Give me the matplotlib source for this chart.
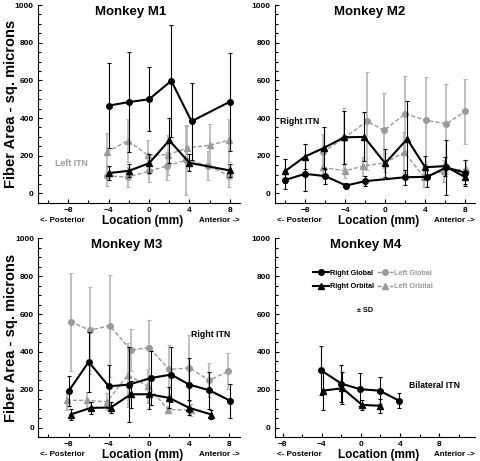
import matplotlib
matplotlib.use('Agg')
import matplotlib.pyplot as plt
from matplotlib.lines import Line2D
from matplotlib.ticker import MultipleLocator

plt.rcParams['font.family'] = ['Liberation Sans', 'DejaVu Sans']
plt.rcParams['font.weight'] = 'bold'

# ---- data (location in mm, fiber area in sq. microns, SD) ----
# Monkey M1
m1_rg_x = [-4, -2, 0, 2.2, 4.2, 8]
m1_rg = [466, 485, 500, 598, 383, 487]
m1_rg_sd = [225, 265, 170, 298, 204, 261]
m1_ro_x = [-4, -2, 0, 2, 4, 8]
m1_ro = [108, 120, 160, 282, 162, 122]
m1_ro_sd = [38, 35, 50, 118, 45, 35]
m1_lg_x = [-4.2, -2.1, 0, 1.8, 3.7, 5.8, 7.9]
m1_lg = [92, 87, 118, 146, 177, 148, 95]
m1_lg_sd = [50, 55, 60, 75, 185, 75, 60]
m1_lo_x = [-4.2, -2.1, -0.1, 1.9, 3.8, 6.0, 7.9]
m1_lo = [219, 280, 203, 206, 242, 256, 282]
m1_lo_sd = [103, 115, 80, 106, 118, 110, 115]

# Monkey M2
m2_rg_x = [-10, -8, -6, -3.9, -2, 2, 4.2, 6.1, 8]
m2_rg = [71, 104, 92, 42, 65, 86, 88, 138, 110]
m2_rg_sd = [50, 92, 40, 12, 25, 40, 55, 145, 70]
m2_ro_x = [-10, -8, -6.1, -4.1, -2.1, 0, 2.2, 4, 6, 8]
m2_ro = [118, 196, 242, 298, 300, 160, 289, 139, 145, 86]
m2_ro_sd = [65, 68, 108, 140, 130, 75, 200, 62, 50, 35]
m2_lg_x = [-6.2, -4.1, -1.8, -0.1, 2.0, 4.1, 6.1, 8.0]
m2_lg = [218, 295, 383, 335, 423, 388, 370, 435]
m2_lg_sd = [100, 160, 260, 200, 200, 230, 210, 175]
m2_lo_x = [-6.2, -4.0, -2.2, 0, 1.9, 3.9, 5.9, 8.1]
m2_lo = [138, 120, 145, 162, 218, 87, 118, 130]
m2_lo_sd = [45, 40, 50, 50, 110, 55, 60, 45]

# Monkey M3
m3_rg_x = [-8, -6, -4, -2, 0.2, 2.2, 4, 6, 8.1]
m3_rg = [192, 347, 218, 227, 262, 280, 227, 197, 141]
m3_rg_sd = [80, 160, 115, 200, 145, 146, 143, 97, 90]
m3_ro_x = [-7.8, -5.8, -3.8, -1.8, 0, 2, 4, 6.2]
m3_ro = [69, 104, 106, 176, 176, 157, 104, 69]
m3_ro_sd = [30, 30, 30, 70, 80, 55, 40, 25]
m3_lg_x = [-7.8, -5.9, -3.9, -1.8, 0, 2, 4, 6, 7.9]
m3_lg = [559, 515, 538, 409, 423, 307, 315, 250, 298]
m3_lg_sd = [260, 230, 270, 110, 145, 130, 175, 90, 95]
m3_lo_x = [-8.2, -6.2, -4.2, -2.1, -0.1, 1.9, 4.2]
m3_lo = [144, 144, 136, 277, 218, 95, 92]
m3_lo_sd = [50, 45, 45, 170, 90, 20, 30]

# Monkey M4 (bilateral ITN, right side only)
m4_rg_x = [-4.1, -2.0, -0.1, 1.9, 3.9]
m4_rg = [303, 232, 203, 195, 142]
m4_rg_sd = [130, 98, 88, 73, 40]
m4_ro_x = [-3.9, -1.9, 0.1, 2.0]
m4_ro = [195, 208, 120, 115]
m4_ro_sd = [100, 85, 28, 38]

BLACK = 'black'
GRAY = '#9a9a9a'
GRAY_ERR = '#b5b5b5'


def plot_right(ax, x, y, sd, marker):
    ax.errorbar(x, y, yerr=sd, fmt='-' + marker, color=BLACK, ecolor=BLACK,
                lw=1.5, elinewidth=0.8, capsize=1.5, capthick=0.8,
                markersize=4, zorder=4)


def plot_left(ax, x, y, sd, marker):
    ax.errorbar(x, y, yerr=sd, fmt='--' + marker, color=GRAY, ecolor=GRAY_ERR,
                lw=1.0, dashes=(3, 1.5), elinewidth=1.2, capsize=1.5,
                capthick=0.8, markersize=4, zorder=3)


def style_axes(ax, title, xlim, ylabel):
    ax.set_xlim(*xlim)
    ax.set_ylim(-50, 1000)
    ax.spines['top'].set_visible(False)
    ax.spines['right'].set_visible(False)
    ax.spines['left'].set_bounds(-50, 1000)
    ax.xaxis.set_major_locator(MultipleLocator(4))
    ax.xaxis.set_minor_locator(MultipleLocator(2))
    ax.yaxis.set_major_locator(MultipleLocator(200))
    ax.yaxis.set_minor_locator(MultipleLocator(50))
    ax.tick_params(which='both', direction='in', labelsize=6, width=0.8)
    ax.tick_params(which='major', length=3, pad=3)
    ax.tick_params(which='minor', length=2.5)
    for lab in ax.get_xticklabels() + ax.get_yticklabels():
        lab.set_fontweight('bold')
    ax.text(0.46, 0.965, title, transform=ax.transAxes, ha='center', va='center',
            fontsize=9.5, fontweight='bold')
    ax.text(0.52, -0.09, 'Location (mm)', transform=ax.transAxes, ha='center',
            va='center', fontsize=8.5, fontweight='bold')
    ax.text(0.01, -0.09, '<- Posterior', transform=ax.transAxes, ha='left',
            va='center', fontsize=5.8, fontweight='bold')
    ax.text(1.0, -0.09, 'Anterior ->', transform=ax.transAxes, ha='right',
            va='center', fontsize=5.8, fontweight='bold')
    if ylabel:
        ax.text(-0.135, 0.5, 'Fiber Area - sq. microns', transform=ax.transAxes,
                ha='center', va='center', rotation=90, fontsize=10.5,
                fontweight='bold')


fig = plt.figure(figsize=(4.8, 4.61), dpi=100)
ax1 = fig.add_axes([0.079, 0.560, 0.421, 0.429])
ax2 = fig.add_axes([0.573, 0.560, 0.417, 0.429])
ax3 = fig.add_axes([0.080, 0.052, 0.419, 0.431])
ax4 = fig.add_axes([0.573, 0.052, 0.417, 0.431])

# M1
plot_left(ax1, m1_lg_x, m1_lg, m1_lg_sd, 'o')
plot_left(ax1, m1_lo_x, m1_lo, m1_lo_sd, '^')
plot_right(ax1, m1_rg_x, m1_rg, m1_rg_sd, 'o')
plot_right(ax1, m1_ro_x, m1_ro, m1_ro_sd, '^')
style_axes(ax1, 'Monkey M1', (-11, 9), True)
ax1.text(-9.3, 160, 'Left ITN', color=GRAY, fontsize=6.3, fontweight='bold',
         va='center')

# M2
plot_left(ax2, m2_lg_x, m2_lg, m2_lg_sd, 'o')
plot_left(ax2, m2_lo_x, m2_lo, m2_lo_sd, '^')
plot_right(ax2, m2_rg_x, m2_rg, m2_rg_sd, 'o')
plot_right(ax2, m2_ro_x, m2_ro, m2_ro_sd, '^')
style_axes(ax2, 'Monkey M2', (-11, 9), False)
ax2.texts[0].set_x(0.475)
ax2.text(-10.5, 380, 'Right ITN', color=BLACK, fontsize=6.3, fontweight='bold',
         va='center')

# M3
plot_left(ax3, m3_lg_x, m3_lg, m3_lg_sd, 'o')
plot_left(ax3, m3_lo_x, m3_lo, m3_lo_sd, '^')
plot_right(ax3, m3_rg_x, m3_rg, m3_rg_sd, 'o')
plot_right(ax3, m3_ro_x, m3_ro, m3_ro_sd, '^')
style_axes(ax3, 'Monkey M3', (-11, 9), True)
ax3.texts[0].set_x(0.44)
ax3.text(4.2, 494, 'Right ITN', color=BLACK, fontsize=6.3, fontweight='bold',
         va='center')

# M4
plot_right(ax4, m4_rg_x, m4_rg, m4_rg_sd, 'o')
plot_right(ax4, m4_ro_x, m4_ro, m4_ro_sd, '^')
style_axes(ax4, 'Monkey M4', (-8.8, 11.7), False)
ax4.texts[0].set_x(0.455)
ax4.text(4.9, 220, 'Bilateral ITN', color=BLACK, fontsize=6.2, fontweight='bold',
         va='center')
ax4.text(0.4, 617, '\u00b1 SD', color=BLACK, fontsize=5.2, fontweight='bold',
         ha='center', va='center')

# legend
handles = [
    Line2D([], [], color=BLACK, lw=1.5, marker='o', markersize=4),
    Line2D([], [], color=BLACK, lw=1.5, marker='^', markersize=4),
    Line2D([], [], color=GRAY, lw=1.0, ls='--', dashes=(3, 1.5), marker='o', markersize=4),
    Line2D([], [], color=GRAY, lw=1.0, ls='--', dashes=(3, 1.5), marker='^', markersize=4),
]
labels = ['Right Global', 'Right Orbital', 'Left Global', 'Left Orbital']
leg = ax4.legend(handles, labels, ncol=2, loc='upper left',
                 bbox_to_anchor=(0.17, 0.86), frameon=False, fontsize=5.2,
                 handlelength=2.2, handletextpad=0.2, columnspacing=0.4,
                 labelspacing=0.9, borderpad=0, prop={'weight': 'bold', 'size': 5.2})
for txt, lab in zip(leg.get_texts(), labels):
    if lab.startswith('Left'):
        txt.set_color(GRAY)

fig.savefig('out.png', dpi=100)
